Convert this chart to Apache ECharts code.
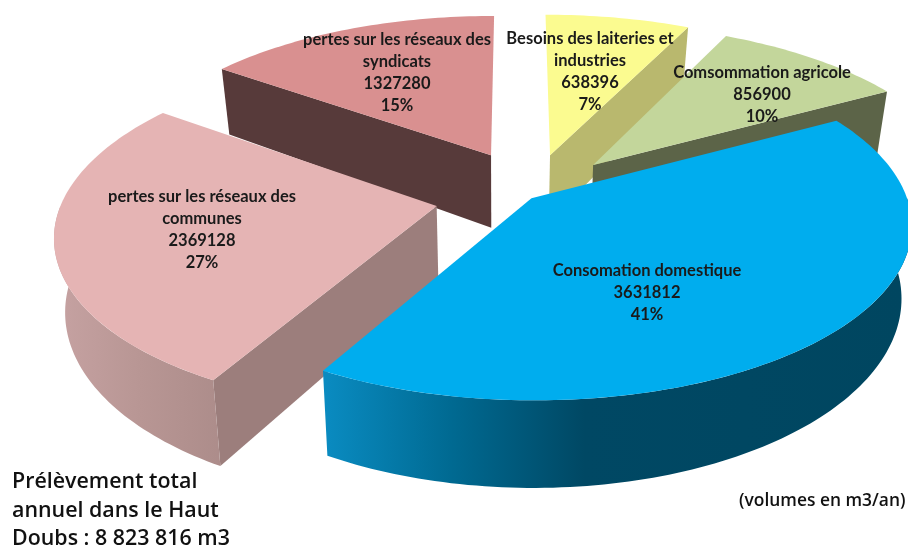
<!DOCTYPE html>
<html><head><meta charset="utf-8">
<style>html,body{margin:0;background:#fff}#c{width:908px;height:549px}</style>
<script src="https://cdn.jsdelivr.net/npm/echarts@6/dist/echarts.min.js"></script>
</head><body><div id="c"></div>
<script>
// ---- data ----
const labels = [['Besoins des laiteries et','industries'],['Comsommation agricole'],['Consomation domestique'],['pertes sur les réseaux des','communes'],['pertes sur les réseaux des','syndicats']];
const values = [638396, 856900, 3631812, 2369128, 1327280];
const percents = [7, 10, 41, 27, 15];
const titleLines = ['Prélèvement total','annuel dans le Haut','Doubs : 8 823 816 m3'];
const unitNote = '(volumes en m3/an)';

// ---- styling / projection ----
const topColors = ['#FBFB90','#C3D69B','#00ADEE','#E5B4B4','#D99090'];
const cutColors = ['#B9B86E','#5C6448','#004A68','#9C7E7C','#573A3A'];
const wallStops = [
  [[0,'#B9B86E'],[1,'#B9B86E']],
  [[0,'#5C6448'],[1,'#5C6448']],
  [[0,'#0A8CC2'],[0.22,'#006A92'],[0.45,'#004864'],[1,'#004660']],
  [[0,'#C6A2A2'],[0.5,'#B89694'],[1,'#AC8C8A']],
  [[0,'#8A6A6A'],[1,'#8A6A6A']]
].map(list=>list.map(s=>({offset:s[0],color:s[1]})));
const wallSpan = [[540,690],[700,890],[322,905],[55,225],[220,500]];
const offsets = [[0.095,0.06],[0.21,0],[0.043,-0.195],[-0.203,-0.24],[-0.065,0.06]];
const radii = [0.995,0.985,0.98,0.975,0.985];
const depths = [1,1,1,1,1.08];
const labelPos = [[590,72],[762,95],[647,293],[202,230],[397,73]];
const drawOrder = [4,0,1,3,2];
const CX=515, CY=165, RX=372, RY=165, K=0.15, KZ=0.19, H=68, CONVERGE=0.025, VX=500;

const total = values.reduce((a,b)=>a+b,0);
const bounds = []; { let c=0; values.forEach(v=>{ bounds.push([c/total*2*Math.PI,(c+v)/total*2*Math.PI]); c+=v; }); }

function proj(u,v,z){
  const s=1/(1+K*v), sz=1/(1+KZ*v);
  const x=CX+RX*u*s;
  return [x-(x-VX)*CONVERGE*z, CY-RY*v*s+z*H*sz];
}
function rim(i,t,z){ const o=offsets[i], r=radii[i]; return proj(o[0]+r*Math.sin(t),o[1]+r*Math.cos(t),z*depths[i]); }
function apex(i,z){ const o=offsets[i]; return proj(o[0],o[1],z*depths[i]); }
function poly(points,fill){ return {type:'polygon',shape:{points},style:{fill},silent:true}; }
function arc(i,a,b,z){ const n=Math.max(2,Math.ceil((b-a)/0.02)), p=[]; for(let j=0;j<=n;j++) p.push(rim(i,a+(b-a)*j/n,z)); return p; }
function wallFill(i){ const sp=wallSpan[i]; return new echarts.graphic.LinearGradient(sp[0],0,sp[1],0,wallStops[i],true); }

function renderSlice(params){
  const i=drawOrder[params.dataIndex], a=bounds[i][0], b=bounds[i][1], ch=[];
  if(Math.cos(a-Math.PI/2)<0) ch.push(poly([apex(i,0),rim(i,a,0),rim(i,a,1),apex(i,1)],cutColors[i]));
  if(Math.cos(b+Math.PI/2)<0) ch.push(poly([apex(i,0),rim(i,b,0),rim(i,b,1),apex(i,1)],cutColors[i]));
  const wa=Math.max(a,Math.PI/2), wb=Math.min(b,Math.PI*1.5);
  if(wb>wa){ ch.push(poly(arc(i,wa,wb,0).concat(arc(i,wa,wb,1).reverse()),wallFill(i))); }
  ch.push(poly([apex(i,0)].concat(arc(i,a,b,0)),topColors[i]));
  return {type:'group',children:ch};
}
function renderLabels(params){
  const i=params.dataIndex;
  const text=labels[i].concat([String(values[i]),percents[i]+'%']).join('\n');
  return {type:'text',x:labelPos[i][0],y:labelPos[i][1],silent:true,
    style:{text,fill:'#1a1a1a',font:'bold 16.5px Lato',lineHeight:22,align:'center',verticalAlign:'middle'}};
}
const chart=echarts.init(document.getElementById('c'),null,{renderer:'canvas'});
chart.setOption({
  animation:false,backgroundColor:'#fff',
  series:[
    {type:'custom',coordinateSystem:'none',renderItem:renderSlice,data:drawOrder.map(i=>values[i]),z:1},
    {type:'custom',coordinateSystem:'none',renderItem:renderLabels,data:values,z:2}
  ],
  graphic:[
    {type:'text',left:12,top:468,z:5,silent:true,style:{text:titleLines.join('\n'),fill:'#111',font:'600 21.4px "Open Sans"',lineHeight:28.5}},
    {type:'text',left:739,top:493,z:5,silent:true,style:{text:unitNote,fill:'#111',font:'600 17.4px "Open Sans"'}}
  ]
});
</script></body></html>
